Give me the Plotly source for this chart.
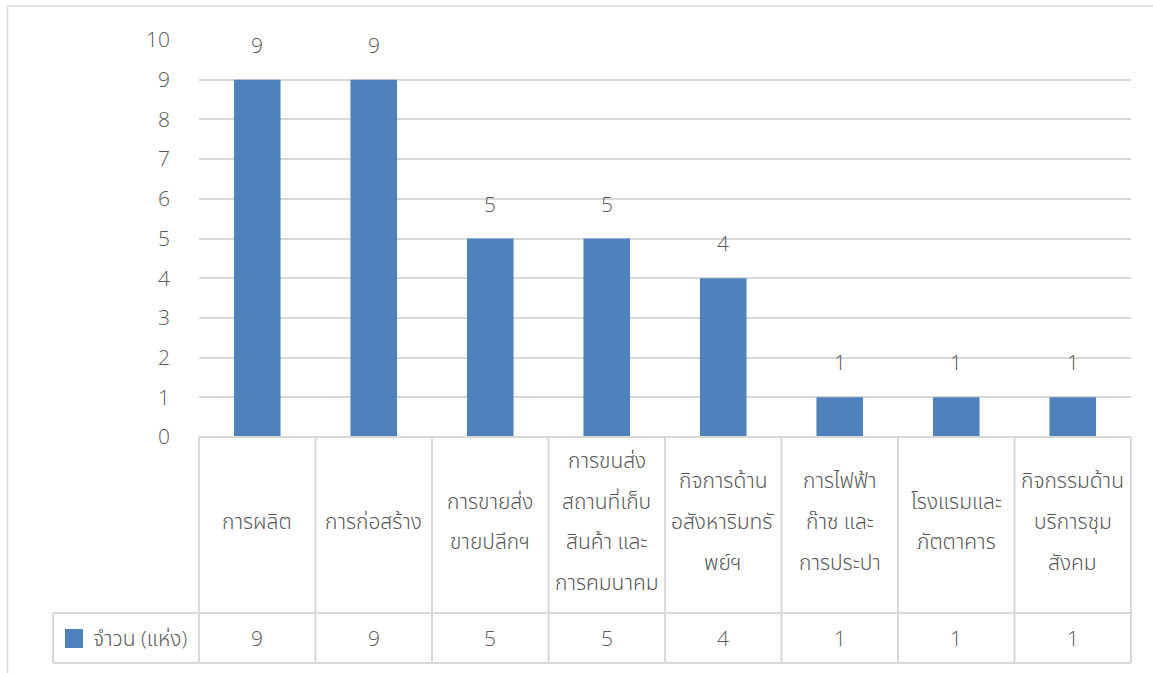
import plotly.graph_objects as go

# ---------------- data ----------------
categories = [
    "การผลิต",
    "การก่อสร้าง",
    "การขายส่ง\nขายปลีกฯ",
    "การขนส่ง\nสถานที่เก็บ\nสินค้า และ\nการคมนาคม",
    "กิจการด้าน\nอสังหาริมทรั\nพย์ฯ",
    "การไฟฟ้า\nก๊าซ และ\nการประปา",
    "โรงแรมและ\nภัตตาคาร",
    "กิจกรรมด้าน\nบริการชุม\nสังคม",
]
values = [9, 9, 5, 5, 4, 1, 1, 1]
series_name = "จำวน (แห่ง)"
y_ticks = list(range(0, 11))

# ---------------- layout constants (pixels) ----------------
W, H = 1153, 673
L, R, T, B = 199, 22, 40, 236
PLOT_W = W - L - R
PLOT_H = H - T - B
BAR_COLOR = "#4F81BD"
GRID = "#D9D9D9"
TXT = "#595959"
FONT = "'Open Sans', 'Noto Sans Thai', 'Noto Sans', 'DejaVu Sans', sans-serif"
FW = 300
FS_NUM = 21
FS_TH = 21


def py(p):  # pixel y -> paper y
    return (H - B - p) / PLOT_H


def px(p):  # pixel x -> paper x
    return (p - L) / PLOT_W


HEADER_TOP = 437
VALUE_TOP = 613
TABLE_BOTTOM = 663
LEGEND_LEFT = 53
LINE_SP = 40.7
HEADER_CENTER = 521


def fnt(size):
    return dict(size=size, color=TXT, family=FONT, weight=FW)


fig = go.Figure()
fig.add_trace(go.Bar(
    x=categories, y=values, name=series_name,
    marker=dict(color=BAR_COLOR, line=dict(width=0)),
    showlegend=False, hoverinfo="skip",
))

shapes = []
annotations = []

# data labels above bars
for c, v in zip(categories, values):
    annotations.append(dict(x=c, y=v, xref="x", yref="y", text=str(v), showarrow=False,
                            xanchor="center", yanchor="middle", yshift=35, font=fnt(FS_NUM)))

n = len(categories)
line_style = dict(color=GRID, width=2)
# horizontal table lines
shapes.append(dict(type="line", xref="paper", yref="paper", x0=0, x1=1,
                   y0=py(HEADER_TOP), y1=py(HEADER_TOP), line=line_style))
for yy in (VALUE_TOP, TABLE_BOTTOM):
    shapes.append(dict(type="line", xref="paper", yref="paper", x0=px(LEGEND_LEFT), x1=1,
                       y0=py(yy), y1=py(yy), line=line_style))
# vertical table lines
for i in range(n + 1):
    shapes.append(dict(type="line", xref="paper", yref="paper", x0=i / n, x1=i / n,
                       y0=py(HEADER_TOP), y1=py(TABLE_BOTTOM), line=line_style))
shapes.append(dict(type="line", xref="paper", yref="paper", x0=px(LEGEND_LEFT), x1=px(LEGEND_LEFT),
                   y0=py(VALUE_TOP), y1=py(TABLE_BOTTOM), line=line_style))

# outer chart border
shapes.append(dict(type="rect", xref="paper", yref="paper", x0=px(7.5), x1=px(W + 20),
                   y0=py(H + 20), y1=py(6), line=dict(color=GRID, width=1.5)))

# legend key
shapes.append(dict(type="rect", xref="paper", yref="paper", x0=px(65), x1=px(83),
                   y0=py(648), y1=py(629), fillcolor=BAR_COLOR, line=dict(width=0)))
annotations.append(dict(x=px(91), y=py((VALUE_TOP + TABLE_BOTTOM) / 2), xref="paper", yref="paper",
                        xanchor="left", yanchor="middle", text=series_name, showarrow=False,
                        font=fnt(FS_TH)))

# header cells (category names, each line separately)
hc = py(HEADER_CENTER)
for c in categories:
    lines = c.split("\n")
    k = len(lines)
    for j, ln in enumerate(lines):
        annotations.append(dict(x=c, y=hc, xref="x", yref="paper", text=ln, showarrow=False,
                                xanchor="center", yanchor="middle",
                                yshift=-(j - (k - 1) / 2) * LINE_SP, font=fnt(FS_TH)))
# value cells
vc = py((VALUE_TOP + TABLE_BOTTOM) / 2)
for c, v in zip(categories, values):
    annotations.append(dict(x=c, y=vc, xref="x", yref="paper", text=str(v), showarrow=False,
                            xanchor="center", yanchor="middle", font=fnt(FS_NUM)))

fig.update_layout(
    width=W, height=H,
    margin=dict(l=L, r=R, t=T, b=B),
    paper_bgcolor="white", plot_bgcolor="white",
    bargap=0.6,
    font=fnt(FS_NUM),
    xaxis=dict(showticklabels=False, showgrid=False, zeroline=False, showline=False,
               range=[-0.5, n - 0.5], fixedrange=True),
    yaxis=dict(range=[0, 10], tickvals=y_ticks, showgrid=True, gridcolor=GRID, gridwidth=2,
               zeroline=False, showline=False, ticks="", ticklabelstandoff=28,
               tickfont=fnt(FS_NUM), fixedrange=True),
    shapes=shapes, annotations=annotations,
)

fig.write_html("out.html", config={"displayModeBar": False},
               post_script="document.body.style.margin='0';document.body.style.overflow='hidden';")
